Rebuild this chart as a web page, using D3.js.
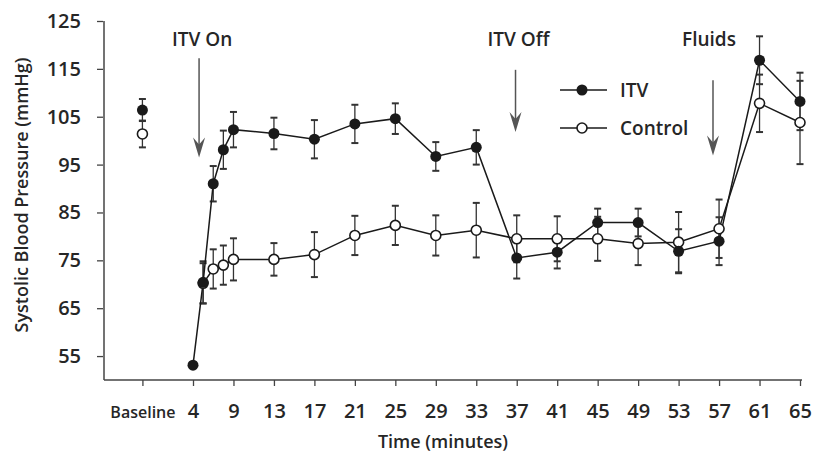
<!DOCTYPE html>
<html>
<head>
<meta charset="utf-8">
<script src="https://cdn.jsdelivr.net/npm/d3@7"></script>
<style>
  body { margin: 0; background: #fff; }
  svg text { font-family: "Open Sans", Lato, sans-serif; fill: #262626; font-weight: 600; }
</style>
</head>
<body>
<div id="chart"></div>
<script>
// x positions are "slots": one slot per labelled tick, the 4-9 interval holds extra samples
var tickLabels = ["Baseline", "4", "9", "13", "17", "21", "25", "29", "33", "37", "41", "45", "49", "53", "57", "61", "65"];
var tickSlots = [-1.25, 0, 1, 2, 3, 4, 5, 6, 7, 8, 9, 10, 11, 12, 13, 14, 15];
var yTicks = [55, 65, 75, 85, 95, 105, 115, 125];

var baselineSlot = -1.25;
var itvBaseline = 106.4, itvBaselineErr = 2.3;
var ctlBaseline = 101.4, ctlBaselineErr = 2.8;

var itvSlots = [0, 0.25, 0.5, 0.75, 1, 2, 3, 4, 5, 6, 7, 8, 9, 10, 11, 12, 13, 14, 15];
var itvValues = [53.1, 70.4, 91, 98.1, 102.3, 101.5, 100.3, 103.5, 104.6, 96.7, 98.6, 75.5, 76.7, 82.9, 82.9, 76.9, 79, 116.8, 108.2];
var itvErr = [0, 4.4, 3.7, 4, 3.7, 3.3, 4, 4, 3.2, 3, 3.6, 4.3, 3.4, 2.9, 2.9, 4.6, 5, 5, 6];

var ctlSlots = [0.25, 0.5, 0.75, 1, 2, 3, 4, 5, 6, 7, 8, 9, 10, 11, 12, 13, 14, 15];
var ctlValues = [70.2, 73.2, 74, 75.2, 75.2, 76.2, 80.2, 82.3, 80.2, 81.3, 79.5, 79.5, 79.5, 78.5, 78.8, 81.6, 107.8, 103.8];
var ctlErr = [4.2, 4.1, 4.1, 4.4, 3.4, 4.7, 4.1, 4.1, 4.2, 5.7, 4.9, 4.7, 4.6, 4.5, 6.3, 6.1, 6, 8.7];

var eventLabels = ["ITV On", "ITV Off", "Fluids"];
var eventSlots = [0.15, 7.97, 12.85];

var W = 813, H = 459;
var svg = d3.select("#chart").append("svg").attr("width", W).attr("height", H);

var x = d3.scaleLinear().domain([0, 15]).range([193, 800]);
var y = d3.scaleLinear().domain([50, 125]).range([380, 21]);

var ink = "#1a1a1a";

// axes
var yAxis = d3.axisLeft(y).tickValues(yTicks).tickSize(6).tickPadding(17);
var gy = svg.append("g").attr("transform", "translate(104,0)").call(yAxis);
gy.select(".domain").attr("d", "M0," + y(125) + "V" + y(50)).attr("stroke", "#444").attr("stroke-width", 1.5);
gy.selectAll(".tick line").attr("stroke", "#444").attr("stroke-width", 1.3).attr("transform", "translate(-1,0)");
gy.selectAll(".tick text").style("font-size", "20px").attr("fill", "#262626");

var xAxis = d3.axisBottom(x).tickValues(tickSlots).tickFormat(function(d, i) { return tickLabels[i]; })
    .tickSize(6).tickPadding(18);
var gx = svg.append("g").attr("transform", "translate(0,380)").call(xAxis);
gx.select(".domain").attr("d", "M104,0H802").attr("stroke", "#444").attr("stroke-width", 1.5);
gx.selectAll(".tick line").attr("stroke", "#444").attr("stroke-width", 1.3);
gx.selectAll(".tick text")
    .style("font-size", function(d, i) { return i == 0 ? "16px" : "20px"; })
    .attr("dy", function(d, i) { return i == 0 ? "0.85em" : "0.71em"; })
    .attr("fill", "#262626");

svg.append("text").attr("x", 443).attr("y", 448).attr("text-anchor", "middle")
    .style("font-size", "18px").text("Time (minutes)");
svg.append("text").attr("transform", "translate(28,195) rotate(-90)").attr("text-anchor", "middle")
    .style("font-size", "18px").text("Systolic Blood Pressure (mmHg)");

// event arrows
var arrowTop = [117.2, 114.8, 112.6], arrowBottom = [96.5, 101.8, 96.9];
var evGroup = svg.append("g");
eventLabels.forEach(function(lbl, i) {
    var ax = x(eventSlots[i]);
    evGroup.append("text").attr("x", ax + (i == 2 ? -4 : 3)).attr("y", 46).attr("text-anchor", "middle")
        .style("font-size", "19px").text(lbl);
    evGroup.append("line").attr("x1", ax).attr("x2", ax)
        .attr("y1", y(arrowTop[i])).attr("y2", y(arrowBottom[i]) - 12)
        .attr("stroke", "#555").attr("stroke-width", 1.5);
    var by = y(arrowBottom[i]);
    evGroup.append("path")
        .attr("d", "M" + (ax - 6) + "," + (by - 20) + "L" + ax + "," + by + "L" + (ax + 6) + "," + (by - 20) + "L" + ax + "," + (by - 13) + "Z")
        .attr("fill", "#555");
});

function series(slots, vals) {
    return slots.map(function(s, i) { return {s: s, v: vals[i]}; });
}
var itv = series(itvSlots, itvValues).map(function(d, i) { d.e = itvErr[i]; return d; });
var ctl = series(ctlSlots, ctlValues).map(function(d, i) { d.e = ctlErr[i]; return d; });
itv.push({s: baselineSlot, v: itvBaseline, e: itvBaselineErr, base: true});
ctl.push({s: baselineSlot, v: ctlBaseline, e: ctlBaselineErr, base: true});

var line = d3.line().x(function(d) { return x(d.s); }).y(function(d) { return y(d.v); });

function drawErrors(data) {
    var g = svg.append("g").attr("stroke", "#333").attr("stroke-width", 1.3);
    data.filter(function(d) { return d.e > 0; }).forEach(function(d) {
        var cx = x(d.s);
        g.append("line").attr("x1", cx).attr("x2", cx).attr("y1", y(d.v + d.e)).attr("y2", y(d.v - d.e));
        g.append("line").attr("x1", cx - 3.5).attr("x2", cx + 3.5).attr("y1", y(d.v + d.e)).attr("y2", y(d.v + d.e)).attr("stroke-width", 2);
        g.append("line").attr("x1", cx - 3.5).attr("x2", cx + 3.5).attr("y1", y(d.v - d.e)).attr("y2", y(d.v - d.e)).attr("stroke-width", 2);
    });
}
drawErrors(itv);
drawErrors(ctl);

svg.append("path").datum(ctl.filter(function(d) { return !d.base; })).attr("d", line)
    .attr("fill", "none").attr("stroke", ink).attr("stroke-width", 1.5);
svg.append("path").datum(itv.filter(function(d) { return !d.base; })).attr("d", line)
    .attr("fill", "none").attr("stroke", ink).attr("stroke-width", 1.5);

svg.append("g").selectAll("circle").data(ctl).enter().append("circle")
    .attr("cx", function(d) { return x(d.s); }).attr("cy", function(d) { return y(d.v); })
    .attr("r", 5).attr("fill", "#fff").attr("stroke", ink).attr("stroke-width", 1.6);
svg.append("g").selectAll("circle").data(itv).enter().append("circle")
    .attr("cx", function(d) { return x(d.s); }).attr("cy", function(d) { return y(d.v); })
    .attr("r", 5.5).attr("fill", ink);

// legend
var legendItems = [{name: "ITV", filled: true}, {name: "Control", filled: false}];
var lg = svg.append("g").attr("transform", "translate(560,90)");
legendItems.forEach(function(it, i) {
    var row = lg.append("g").attr("transform", "translate(0," + (i * 38) + ")");
    row.append("line").attr("x1", 0).attr("x2", 47).attr("stroke", ink).attr("stroke-width", 1.5);
    row.append("circle").attr("cx", 22).attr("r", it.filled ? 5.5 : 5)
        .attr("fill", it.filled ? ink : "#fff").attr("stroke", ink).attr("stroke-width", it.filled ? 0 : 1.6);
    row.append("text").attr("x", 60).attr("y", 7).style("font-size", "19px").text(it.name);
});
</script>
</body>
</html>
